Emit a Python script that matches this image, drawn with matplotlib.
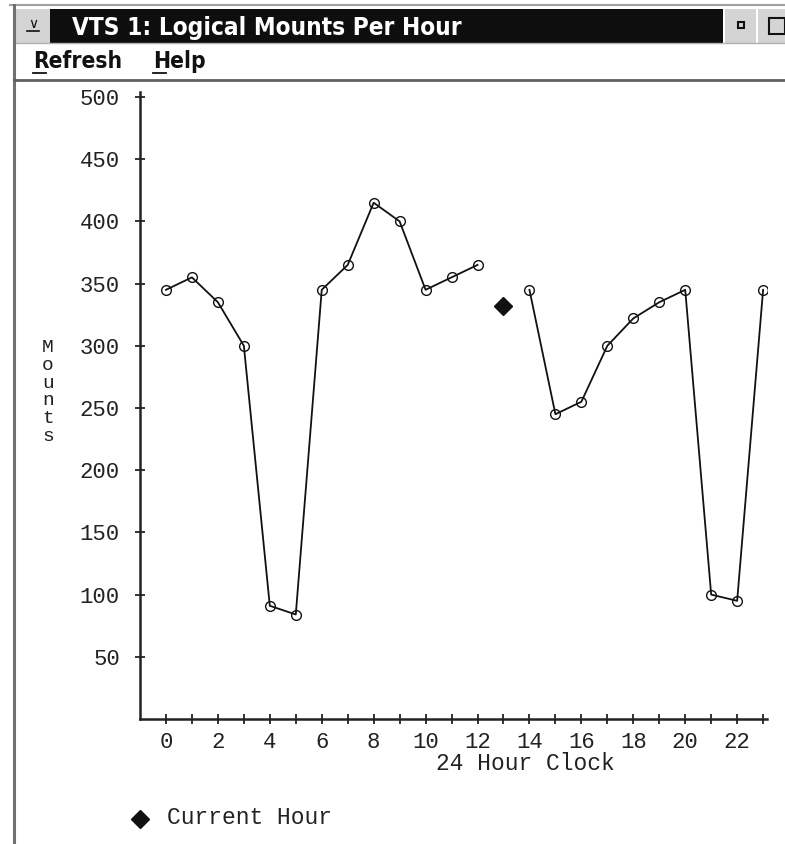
import numpy as np
import matplotlib.pyplot as plt
from matplotlib.patches import Rectangle
from matplotlib.lines import Line2D

hours = list(range(24))
mounts = [345, 355, 335, 300, 91, 84, 345, 365, 415, 400, 345, 355, 365,
          np.nan, 345, 245, 255, 300, 322, 335, 345, 100, 95, 345]
current_hour = 13
current_value = 332

W, H = 785, 844
fig = plt.figure(figsize=(W / 100, H / 100), dpi=100)


def fx(x):
    return x / W


def fy(y):
    return 1 - y / H


def rect(x0, y0, x1, y1, fc, ec="none", lw=0):
    fig.add_artist(Rectangle((fx(x0), fy(y1)), fx(x1) - fx(x0), fy(y0) - fy(y1),
                             transform=fig.transFigure, facecolor=fc,
                             edgecolor=ec, linewidth=lw))


def hline(x0, x1, y, color, lw):
    fig.add_artist(Line2D([fx(x0), fx(x1)], [fy(y), fy(y)], transform=fig.transFigure,
                          color=color, linewidth=lw))


def vline(x, y0, y1, color, lw):
    fig.add_artist(Line2D([fx(x), fx(x)], [fy(y0), fy(y1)], transform=fig.transFigure,
                          color=color, linewidth=lw))


# window frame
hline(10, 785, 5, "#a0a0a0", 1.5)
vline(14, 5, 844, "#707070", 2.2)
# title bar
rect(16, 9, 50, 43, "#d4d4d4")
rect(50, 9, 723, 43, "#0e0e0e")
rect(725, 9, 756, 43, "#d4d4d4")
rect(758, 9, 785, 43, "#d4d4d4")
rect(738, 22, 744, 28, "none", ec="#111111", lw=1.5)
rect(769, 18, 785, 34, "none", ec="#111111", lw=1.5)
fig.text(fx(33), fy(24), "\u2228", color="#111111", fontsize=10, ha="center", va="center")
hline(27, 39, 31, "#111111", 1.2)
hline(16, 785, 43, "#b0b0b0", 1)
fig.text(fx(72), fy(35), "VTS 1: Logical Mounts Per Hour", color="white",
         fontsize=17.5, fontweight="bold", fontstretch="condensed", ha="left",
         va="baseline", family=["DejaVu Sans"])
# menu bar
fig.text(fx(33), fy(68), "Refresh", color="#111111", fontsize=16.3, ha="left",
         va="baseline", family=["DejaVu Sans"], fontstretch="condensed", fontweight="bold")
fig.text(fx(153), fy(68), "Help", color="#111111", fontsize=16.3, ha="left",
         va="baseline", family=["DejaVu Sans"], fontstretch="condensed", fontweight="bold")
hline(33, 46, 73, "#111111", 1.3)
hline(153, 166, 73, "#111111", 1.3)
hline(14, 785, 80, "#606060", 2)

# chart
mono = ["Liberation Mono", "DejaVu Sans Mono"]
ax = fig.add_axes([fx(140), fy(719), fx(767) - fx(140), fy(92) - fy(719)])
ax.plot(hours, mounts, color="#111111", linewidth=1.3, marker="o", markersize=7,
        markerfacecolor="none", markeredgecolor="#111111", markeredgewidth=1.0)
ax.plot([current_hour], [current_value], linestyle="none", marker="D", markersize=9,
        color="#111111")
ax.set_xlim(-1, 23.15)
ax.set_ylim(0, 504)
ax.set_xticks(range(0, 23, 2))
ax.set_xticks(range(1, 24, 2), minor=True)
ax.set_yticks(range(50, 501, 50))
for s in ["top", "right"]:
    ax.spines[s].set_visible(False)
for s in ["left", "bottom"]:
    ax.spines[s].set_linewidth(1.8)
    ax.spines[s].set_color("#222222")
ax.tick_params(which="both", direction="inout", length=7, width=1.3, color="#222222")
ax.tick_params(axis="x", pad=6)
ax.tick_params(axis="y", pad=11)
for lab in ax.get_xticklabels() + ax.get_yticklabels():
    lab.set_family(mono)
    lab.set_fontsize(16)
    lab.set_color("#222222")

fig.text(fx(525), fy(764), "24 Hour Clock", family=mono, fontsize=16.5, color="#222222",
         ha="center", va="center")
fig.text(fx(48), fy(392), "M\no\nu\nn\nt\ns", family=mono, fontsize=14, color="#222222",
         ha="center", va="center", linespacing=1.05)

# legend
fig.add_artist(Line2D([fx(140)], [fy(819)], transform=fig.transFigure, marker="D",
                      markersize=9, color="#111111", linestyle="none"))
fig.text(fx(167), fy(817), "Current Hour", family=mono, fontsize=16.5, color="#222222",
         ha="left", va="center")

fig.savefig("out.png", dpi=100)
